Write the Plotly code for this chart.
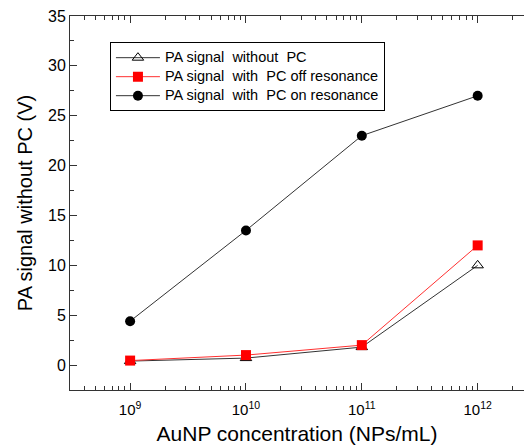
import plotly.graph_objects as go

conc = [1e9, 1e10, 1e11, 1e12]
without_pc = [0.4, 0.7, 1.8, 10.0]
off_res = [0.45, 1.0, 2.0, 12.0]
on_res = [4.4, 13.5, 23.0, 27.0]
names = ["PA signal  without  PC", "PA signal  with  PC off resonance", "PA signal  with  PC on resonance"]
xtick_vals = [1e9, 1e10, 1e11, 1e12]
xtick_text = ["10<sup>9</sup>", "10<sup>10</sup>", "10<sup>11</sup>", "10<sup>12</sup>"]


def leg(name):
    return "<span style='font-size:14.5px'>" + name + "</span>"


fig = go.Figure()
fig.add_trace(go.Scatter(x=conc, y=without_pc, name=leg(names[0]), mode="lines+markers",
                         line=dict(color="#333333", width=1),
                         marker=dict(symbol="triangle-up-open", size=10, color="black", line=dict(width=1))))
fig.add_trace(go.Scatter(x=conc, y=off_res, name=leg(names[1]), mode="lines+markers",
                         line=dict(color="#ff3030", width=1),
                         marker=dict(symbol="square", size=10, color="#ff0000")))
fig.add_trace(go.Scatter(x=conc, y=on_res, name=leg(names[2]), mode="lines+markers",
                         line=dict(color="#333333", width=1),
                         marker=dict(symbol="circle", size=10, color="black")))

minor_x = []
for d in range(8, 13):
    for m in range(2, 10):
        v = m * 10 ** d
        if 10 ** 8.48 < v < 10 ** 12.4:
            minor_x.append(v)

fig.update_layout(
    width=524, height=445,
    margin=dict(l=70, r=0, t=16, b=55),
    paper_bgcolor="white", plot_bgcolor="white",
    font=dict(family="Liberation Sans, Arial, sans-serif", color="black", size=14),
    showlegend=True,
    legend=dict(x=0.088, y=0.93, xanchor="left", yanchor="top",
                bordercolor="black", borderwidth=1, bgcolor="white",
                font=dict(size=12), tracegroupgap=0, itemwidth=44),
    xaxis=dict(type="log", range=[8.481, 12.4], showline=True, linecolor="#333", linewidth=1,
               mirror="ticks", ticks="inside", ticklen=7, tickcolor="#333",
               tickvals=xtick_vals, ticktext=xtick_text, showgrid=False, zeroline=False,
               automargin=False, ticklabelstandoff=6,
               minor=dict(tickvals=minor_x, ticks="inside", ticklen=4, tickcolor="#333", showgrid=False),
               title=dict(text="AuNP concentration (NPs/mL)", font=dict(size=21), standoff=14),
               tickfont=dict(size=15)),
    yaxis=dict(range=[-2.5, 35], showline=True, linecolor="#333", linewidth=1, mirror=False,
               ticks="inside", ticklen=7, tickcolor="#333", tickvals=[0, 5, 10, 15, 20, 25, 30, 35],
               showgrid=False, zeroline=False, automargin=False,
               minor=dict(tickvals=[-2.5, 2.5, 7.5, 12.5, 17.5, 22.5, 27.5, 32.5], ticks="inside",
                          ticklen=4, tickcolor="#333", showgrid=False),
               title=dict(text="PA signal without PC (V)", font=dict(size=20), standoff=10),
               tickfont=dict(size=16)),
)

fig.write_html("out.html", config={"displayModeBar": False, "staticPlot": True},
               post_script="document.body.style.margin='0';document.body.style.overflow='hidden';")
